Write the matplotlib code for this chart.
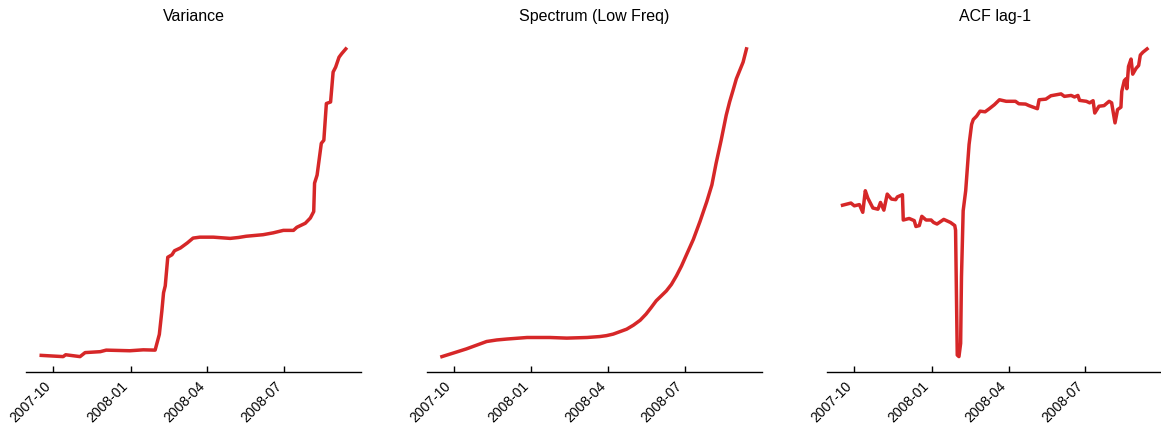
import matplotlib
matplotlib.use("Agg")
import matplotlib.pyplot as plt
import matplotlib.dates as mdates
import pandas as pd

plt.rcParams['font.family'] = ['Liberation Sans', 'DejaVu Sans']

# Rolling early-warning indicators (normalised to [0, 1])
variance_dates = [
    "2007-09-17", "2007-10-13", "2007-10-16", "2007-11-02", "2007-11-08",
    "2007-11-26", "2007-12-03", "2007-12-31", "2008-01-16", "2008-01-30",
    "2008-02-04", "2008-02-07", "2008-02-09", "2008-02-11", "2008-02-14",
    "2008-02-19", "2008-02-22", "2008-02-29", "2008-03-08", "2008-03-15",
    "2008-03-23", "2008-04-08", "2008-04-28", "2008-05-08", "2008-05-17",
    "2008-06-06", "2008-06-18", "2008-06-30", "2008-07-12", "2008-07-16",
    "2008-07-26", "2008-08-01", "2008-08-05", "2008-08-06", "2008-08-09",
    "2008-08-14", "2008-08-17", "2008-08-20", "2008-08-25", "2008-08-28",
    "2008-08-31", "2008-09-04", "2008-09-07", "2008-09-12",
]
variance = [
    0.007, 0.003, 0.009, 0.003, 0.016, 0.019, 0.024, 0.022, 0.025, 0.024,
    0.075, 0.151, 0.210, 0.232, 0.325, 0.333, 0.346, 0.355, 0.371, 0.387,
    0.390, 0.390, 0.386, 0.389, 0.393, 0.398, 0.404, 0.412, 0.412, 0.422,
    0.435, 0.452, 0.473, 0.565, 0.591, 0.694, 0.704, 0.823, 0.828, 0.925,
    0.941, 0.973, 0.984, 1.000,
]

spectrum_dates = [
    "2007-09-17", "2007-10-01", "2007-10-16", "2007-10-28", "2007-11-09",
    "2007-11-21", "2007-12-03", "2007-12-27", "2008-01-23", "2008-02-12",
    "2008-03-07", "2008-03-22", "2008-03-30", "2008-04-07", "2008-04-15",
    "2008-04-23", "2008-05-01", "2008-05-09", "2008-05-16", "2008-05-22",
    "2008-05-28", "2008-06-03", "2008-06-09", "2008-06-15", "2008-06-21",
    "2008-06-27", "2008-07-03", "2008-07-11", "2008-07-19", "2008-07-27",
    "2008-08-02", "2008-08-07", "2008-08-13", "2008-08-19", "2008-08-23",
    "2008-08-27", "2008-08-31", "2008-09-04", "2008-09-08", "2008-09-12",
]
spectrum = [
    0.002, 0.014, 0.027, 0.039, 0.051, 0.056, 0.059, 0.064, 0.064, 0.062,
    0.064, 0.067, 0.070, 0.075, 0.083, 0.091, 0.104, 0.120, 0.140, 0.161,
    0.183, 0.199, 0.215, 0.236, 0.264, 0.296, 0.333, 0.382, 0.441, 0.505,
    0.559, 0.629, 0.704, 0.785, 0.828, 0.865, 0.903, 0.930, 0.957, 1.000,
]

acf_dates = [
    "2007-09-17", "2007-09-27", "2007-10-01", "2007-10-07", "2007-10-11",
    "2007-10-14", "2007-10-17", "2007-10-23", "2007-10-29", "2007-11-01",
    "2007-11-05", "2007-11-09", "2007-11-14", "2007-11-19", "2007-11-21",
    "2007-11-27", "2007-11-28", "2007-12-05", "2007-12-11", "2007-12-13",
    "2007-12-17", "2007-12-20", "2007-12-25", "2007-12-31", "2008-01-03",
    "2008-01-07", "2008-01-15", "2008-01-23", "2008-01-28", "2008-01-29",
    "2008-01-31", "2008-02-02", "2008-02-04", "2008-02-05", "2008-02-07",
    "2008-02-10", "2008-02-12", "2008-02-14", "2008-02-17", "2008-02-19",
    "2008-02-23", "2008-02-27", "2008-03-04", "2008-03-09", "2008-03-15",
    "2008-03-21", "2008-03-29", "2008-04-09", "2008-04-13", "2008-04-21",
    "2008-04-25", "2008-04-29", "2008-05-05", "2008-05-07", "2008-05-15",
    "2008-05-21", "2008-06-02", "2008-06-06", "2008-06-14", "2008-06-18",
    "2008-06-22", "2008-06-24", "2008-07-02", "2008-07-06", "2008-07-10",
    "2008-07-12", "2008-07-17", "2008-07-23", "2008-07-29", "2008-08-01",
    "2008-08-05", "2008-08-08", "2008-08-12", "2008-08-13", "2008-08-16",
    "2008-08-18", "2008-08-19", "2008-08-21", "2008-08-24", "2008-08-26",
    "2008-08-30", "2008-09-02", "2008-09-04", "2008-09-07", "2008-09-12",
]
acf1 = [
    0.491, 0.498, 0.489, 0.493, 0.468, 0.538, 0.514, 0.482, 0.478, 0.500,
    0.475, 0.527, 0.511, 0.509, 0.518, 0.525, 0.443, 0.448, 0.441, 0.422,
    0.425, 0.455, 0.443, 0.443, 0.435, 0.430, 0.445, 0.435, 0.425, 0.410,
    0.005, 0.000, 0.043, 0.258, 0.473, 0.538, 0.613, 0.688, 0.753, 0.769,
    0.780, 0.796, 0.794, 0.804, 0.817, 0.833, 0.828, 0.828, 0.820, 0.819,
    0.814, 0.810, 0.804, 0.833, 0.835, 0.846, 0.852, 0.844, 0.847, 0.842,
    0.847, 0.831, 0.828, 0.823, 0.830, 0.790, 0.812, 0.814, 0.828, 0.823,
    0.758, 0.801, 0.809, 0.860, 0.895, 0.901, 0.869, 0.941, 0.965, 0.916,
    0.935, 0.944, 0.978, 0.987, 0.998,
]

panels = [
    ("Variance", variance_dates, variance),
    ("Spectrum (Low Freq)", spectrum_dates, spectrum),
    ("ACF lag-1", acf_dates, acf1),
]

W, H = 1161, 425
fig = plt.figure(figsize=(W / 100, H / 100), dpi=100)
lefts = [26, 426.7, 827.3]
for left, (title, dates, values) in zip(lefts, panels):
    ax = fig.add_axes([left / W, 53 / H, 335 / W, 338.5 / H])
    ax.plot(pd.to_datetime(dates), values, color="#d62728", linewidth=2.5,
            solid_joinstyle="round")
    ax.set_title(title, fontsize=11.5, pad=9)
    for side in ("top", "right", "left"):
        ax.spines[side].set_visible(False)
    ax.spines["bottom"].set_linewidth(1.0)
    ax.set_yticks([])
    ax.xaxis.set_major_locator(mdates.MonthLocator(bymonth=[1, 4, 7, 10]))
    ax.xaxis.set_major_formatter(mdates.DateFormatter("%Y-%m"))
    ax.tick_params(axis="x", direction="in", length=4, width=1.0,
                   labelsize=10, pad=5)
    for lbl in ax.get_xticklabels():
        lbl.set_rotation(45)
        lbl.set_ha("right")

fig.savefig("out.png", dpi=100)
